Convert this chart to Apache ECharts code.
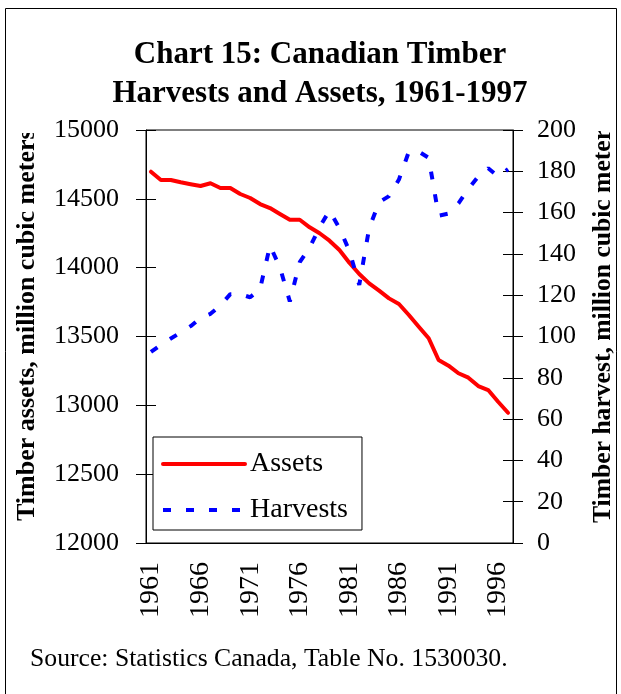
<!DOCTYPE html>
<html>
<head>
<meta charset="utf-8">
<script src="https://cdn.jsdelivr.net/npm/echarts@6/dist/echarts.min.js"></script>
<style>
  html, body { margin: 0; padding: 0; background: #fff; }
  #chart { width: 621px; height: 694px; }
</style>
</head>
<body>
<div id="chart"></div>
<script>
// categories
const years = [
  '1961', '1962', '1963', '1964', '1965', '1966', '1967', '1968', '1969', '1970',
  '1971', '1972', '1973', '1974', '1975', '1976', '1977', '1978', '1979', '1980',
  '1981', '1982', '1983', '1984', '1985', '1986', '1987', '1988', '1989', '1990',
  '1991', '1992', '1993', '1994', '1995', '1996', '1997'
]
// timber assets, million cubic meters (left axis)
const assets = [
  14697, 14637, 14637, 14620, 14606, 14593, 14613, 14579, 14579, 14535,
  14506, 14462, 14433, 14390, 14348, 14348, 14293, 14250, 14196, 14128,
  14036, 13954, 13886, 13833, 13777, 13736, 13656, 13571, 13487, 13329,
  13288, 13233, 13201, 13140, 13111, 13026, 12946
]
// timber harvest, million cubic meters (right axis)
const harvests = [
  92.5, 96, 99, 102, 105, 109, 111, 115, 120.5, 120.5,
  119, 123, 144, 133.5, 117, 136, 143, 153, 161, 152.5,
  141.5, 125, 152.5, 165, 168, 176, 189.5, 189.5, 186.5, 158.5,
  159.5, 164.5, 171.5, 177.5, 181.5, 177.5, 181
]
// axis ranges: min, max, step
const assetAxis = [12000, 15000, 500]
const harvestAxis = [0, 200, 20]

const font = 'Liberation Serif'
const black = '#000'

const chart = echarts.init(document.getElementById('chart'), null, { renderer: 'canvas' })

const tickStyle = { color: black, width: 1 }
const plain = v => String(v) // no thousands separator

chart.setOption({
  animation: false,
  backgroundColor: '#fff',
  title: {
    text: 'Chart 15: Canadian Timber\nHarvests and Assets, 1961-1997',
    left: 320,
    top: 35,
    padding: 0,
    textAlign: 'center',
    textStyle: { fontFamily: font, fontWeight: 'bold', fontSize: 31, lineHeight: 39, color: black }
  },
  legend: {
    orient: 'vertical',
    left: 153,
    top: 437,
    padding: [11, 14, 4, 8],
    itemGap: 14,
    itemWidth: 82,
    itemHeight: 14,
    backgroundColor: '#fff',
    borderColor: black,
    borderWidth: 1,
    selectedMode: false,
    data: ['Assets', 'Harvests'],
    itemStyle: { opacity: 0 },
    lineStyle: { width: 4 },
    textStyle: { fontFamily: font, fontSize: 28, color: black, lineHeight: 32 }
  },
  grid: {
    left: 146, right: 108, top: 130, bottom: 151,
    show: true, borderColor: black, borderWidth: 1,
    containLabel: false, outerBoundsMode: 'none'
  },
  xAxis: [
    {
      type: 'category',
      data: years,
      boundaryGap: true,
      axisLine: { lineStyle: { color: black, width: 1 } },
      axisTick: { interval: 1, length: 10, lineStyle: tickStyle },
      axisLabel: {
        interval: 4, rotate: 90, margin: 19,
        fontFamily: font, fontSize: 28, color: black,
        padding: [0, 0, 10, 0]
      },
      splitLine: { show: false }
    },
    {
      type: 'category',
      data: years,
      position: 'bottom',
      boundaryGap: true,
      axisLine: { show: false },
      axisTick: { inside: true, interval: 1, length: 10, lineStyle: tickStyle },
      axisLabel: { show: false },
      splitLine: { show: false }
    }
  ],
  yAxis: [
    {
      type: 'value', position: 'left',
      min: assetAxis[0], max: assetAxis[1], interval: assetAxis[2],
      axisLine: { show: true, lineStyle: { color: black, width: 1 } },
      axisTick: { show: true, length: 10, lineStyle: tickStyle },
      axisLabel: { margin: 27, fontFamily: font, fontSize: 26, color: black, formatter: plain },
      splitLine: { show: false }
    },
    {
      type: 'value', position: 'right',
      min: harvestAxis[0], max: harvestAxis[1], interval: harvestAxis[2],
      axisLine: { show: true, lineStyle: { color: black, width: 1 } },
      axisTick: { show: true, length: 10, lineStyle: tickStyle },
      axisLabel: { margin: 24, fontFamily: font, fontSize: 26, color: black, formatter: plain },
      splitLine: { show: false }
    },
    {
      type: 'value', position: 'left',
      min: assetAxis[0], max: assetAxis[1], interval: assetAxis[2],
      axisLine: { show: false },
      axisTick: { show: true, inside: true, length: 10, lineStyle: tickStyle },
      axisLabel: { show: false },
      splitLine: { show: false }
    },
    {
      type: 'value', position: 'right',
      min: harvestAxis[0], max: harvestAxis[1], interval: harvestAxis[2],
      axisLine: { show: false },
      axisTick: { show: true, inside: true, length: 10, lineStyle: tickStyle },
      axisLabel: { show: false },
      splitLine: { show: false }
    }
  ],
  series: [
    {
      name: 'Assets',
      type: 'line',
      xAxisIndex: 0,
      yAxisIndex: 0,
      data: assets,
      symbol: 'none',
      itemStyle: { color: '#ff0000' },
      lineStyle: { color: '#ff0000', width: 4, cap: 'round', join: 'round' }
    },
    {
      name: 'Harvests',
      type: 'line',
      xAxisIndex: 0,
      yAxisIndex: 1,
      data: harvests,
      symbol: 'none',
      itemStyle: { color: '#0000ff' },
      lineStyle: { color: '#0000ff', width: 4, type: [8, 15], cap: 'butt' }
    }
  ],
  graphic: [
    {
      type: 'text', x: 27, y: 521, rotation: Math.PI / 2,
      style: {
        text: 'Timber assets, million cubic meters',
        font: 'bold 26px "Liberation Serif"', fill: black,
        align: 'left', verticalAlign: 'middle'
      }
    },
    {
      type: 'text', x: 603, y: 523, rotation: Math.PI / 2,
      style: {
        text: 'Timber harvest, million cubic meters',
        font: 'bold 25.6px "Liberation Serif"', fill: black,
        align: 'left', verticalAlign: 'middle'
      }
    },
    // the axis titles are cut off at the top in the original
    { type: 'rect', shape: { x: 8, y: 95, width: 40, height: 38 }, style: { fill: '#fff' } },
    { type: 'rect', shape: { x: 585, y: 95, width: 30, height: 36 }, style: { fill: '#fff' } },
    {
      type: 'text', x: 30, y: 659,
      style: {
        text: 'Source: Statistics Canada, Table No. 1530030.',
        font: '25.7px "Liberation Serif"', fill: black,
        align: 'left', verticalAlign: 'middle'
      }
    },
    {
      type: 'rect', shape: { x: 5.5, y: 8.5, width: 611, height: 700 },
      style: { fill: 'none', stroke: black, lineWidth: 1 }
    }
  ]
})
</script>
</body>
</html>
